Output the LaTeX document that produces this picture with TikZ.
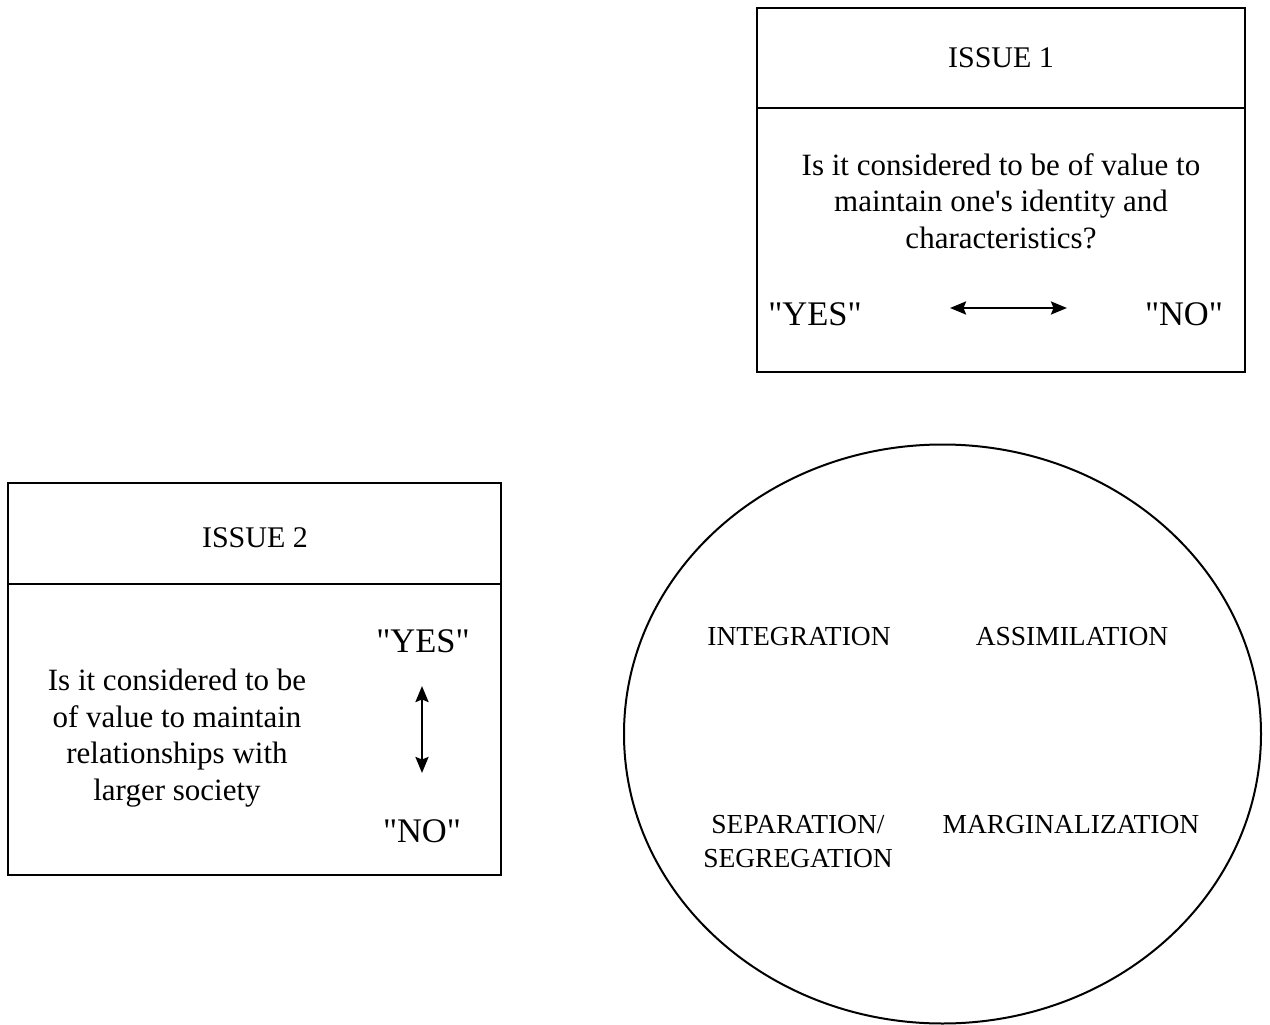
\documentclass[tikz,border=0pt]{standalone}
\usepackage{fontspec}
\setmainfont{Liberation Serif}
\usetikzlibrary{arrows.meta}
\newcommand{\qq}[1]{\textquotedbl#1\textquotedbl}
\begin{document}
\begin{tikzpicture}[x=1pt,y=-1pt,
  frame/.style={draw, line width=2pt},
  heading/.style={font=\fontsize{30}{36}\selectfont, anchor=base, inner sep=0pt},
  question/.style={font=\fontsize{31}{36.5}\selectfont, align=center, anchor=base, inner sep=0pt},
  answer/.style={font=\fontsize{34.5}{40}\selectfont, anchor=base, inner sep=0pt},
  mode/.style={font=\fontsize{27.5}{34}\selectfont, align=center, anchor=base, inner sep=0pt},
  scalearrow/.style={line width=2.4pt, {Stealth[length=16pt,width=13pt,inset=2.5pt]}-{Stealth[length=16pt,width=13pt,inset=2.5pt]}}
]
\useasboundingbox (0,0) rectangle (1270,1025);

% Issue 1: keeping one's own identity
\draw[frame] (757,8) rectangle (1245,372);
\draw[frame] (757,108) -- (1245,108);
\node[heading] (issue1) at (1001,68) {ISSUE 1};
% multi-line nodes are placed by the baseline of their last line
\node[question] (q1) at (1001,248) {Is it considered to be of value to\\maintain one\textquotesingle s identity and\\characteristics?};
\node[answer] (yes1) at (815,325) {\qq{YES}};
\node[answer] (no1) at (1184,325) {\qq{NO}};
\coordinate (h1) at (950,308);
\coordinate (h2) at (1067,308);
\draw[scalearrow] (h1) -- (h2);

% Issue 2: relationships with the larger society
\draw[frame] (8,483) rectangle (501,875);
\draw[frame] (8,584) -- (501,584);
\node[heading] (issue2) at (255,547) {ISSUE 2};
\node[question] (q2) at (177,800) {Is it considered to be\\of value to maintain\\relationships with\\larger society};
\node[answer] (yes2) at (423,652) {\qq{YES}};
\node[answer] (no2) at (422,842) {\qq{NO}};
\coordinate (v1) at (422,686);
\coordinate (v2) at (422,773);
\draw[scalearrow] (v1) -- (v2);

% Acculturation strategies
\draw[line width=2pt] (942.5,734) ellipse [x radius=318.5pt, y radius=289.5pt];
\node[mode] (integ) at (799,645) {INTEGRATION};
\node[mode] (assim) at (1072,645) {ASSIMILATION};
\node[mode] (separ) at (798,867) {SEPARATION/\\SEGREGATION};
\node[mode] (margin) at (1071,833) {MARGINALIZATION};
\end{tikzpicture}
\end{document}
